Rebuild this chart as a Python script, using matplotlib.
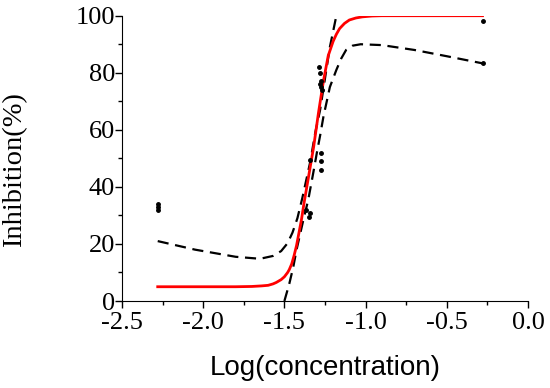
import matplotlib
matplotlib.use("Agg")
import matplotlib.pyplot as plt
from matplotlib.ticker import MultipleLocator

plt.rcParams['axes.unicode_minus'] = False

# measured points
dose_x = [-2.28, -2.28, -2.28,
          -1.37, -1.35, -1.34,
          -1.34, -1.277, -1.277, -1.277,
          -1.285, -1.28, -1.275, -1.28, -1.275, -1.27,
          -0.28, -0.28]
dose_y = [34, 33, 32,
          32, 29.5, 31,
          49.5, 52, 49, 46,
          82, 80, 77, 76, 75, 74,
          98, 83.3]

# fitted curve
fit_x = [-2.28, -1.80, -1.70, -1.64, -1.60, -1.57, -1.55, -1.52, -1.50, -1.48, -1.47,
         -1.455, -1.44, -1.425, -1.41, -1.395, -1.38, -1.365, -1.35,
         -1.335, -1.32, -1.305, -1.29, -1.275, -1.26, -1.245, -1.23,
         -1.215, -1.20, -1.18, -1.16, -1.13, -1.10, -1.06, -1.02, -0.96, -0.90, -0.28]
fit_y = [5.0, 5.0, 5.1, 5.3, 5.5, 6.0, 6.5, 7.5, 8.5, 10, 11,
         13, 16, 19.5, 24, 28.5, 34, 39, 44,
         49, 54, 60, 66, 71.5, 77, 81.5, 86,
         88.5, 91, 93.5, 95.5, 97.3, 98.5, 99.2, 99.6, 99.9, 100, 100]

# confidence band, upper branch
upper_x = [-2.28, -2.05, -1.80, -1.65, -1.57, -1.52, -1.48, -1.45, -1.42, -1.39,
           -1.34, -1.31, -1.28, -1.25, -1.22, -1.18]
upper_y = [21, 18, 15.5, 14.8, 15.8, 17.5, 20.3, 24, 29, 36,
           49, 59, 67, 78, 89, 100]

# confidence band, lower branch
lower_x = [-1.50, -1.47, -1.445, -1.425, -1.405, -1.385, -1.353, -1.322, -1.30, -1.28,
           -1.26, -1.22, -1.18, -1.15, -1.12, -1.08, -1.03, -0.90, -0.70, -0.50, -0.28]
lower_y = [0, 6, 12, 18, 23, 28, 35.5, 45, 52, 58,
           64.5, 75, 81, 85, 88, 89.5, 90, 89.7, 88, 85.8, 83.3]


def main():
    fig = plt.figure(figsize=(5.5, 3.88), dpi=100)
    ax = fig.add_axes([0.2218, 0.2242, 0.96 - 0.2218, 0.9595 - 0.2242])

    ax.plot(upper_x, upper_y, '--', color='k', lw=1.6, dashes=(5, 3), zorder=2)
    ax.plot(lower_x, lower_y, '--', color='k', lw=1.6, dashes=(5, 3), zorder=2)
    ax.plot(fit_x, fit_y, '-', color='#ff0000', lw=2, zorder=3)
    ax.plot(dose_x, dose_y, 'o', color='k', ms=2.5, zorder=4, clip_on=False)

    ax.set_xlim(-2.5, 0.0)
    ax.set_ylim(0, 100)
    ax.spines['top'].set_visible(False)
    ax.spines['right'].set_visible(False)

    ax.xaxis.set_major_locator(MultipleLocator(0.5))
    ax.xaxis.set_minor_locator(MultipleLocator(0.25))
    ax.yaxis.set_major_locator(MultipleLocator(20))
    ax.yaxis.set_minor_locator(MultipleLocator(10))
    ax.tick_params(which='major', direction='out', length=5, width=1)
    ax.tick_params(which='minor', direction='out', length=3, width=1)
    ax.set_xticklabels([f"{v:.1f}" for v in ax.get_xticks()])

    for lab in ax.get_xticklabels() + ax.get_yticklabels():
        lab.set_family('Liberation Serif')
        lab.set_fontsize(19)
    ax.tick_params(axis='x', pad=3)
    ax.tick_params(axis='y', pad=0)

    ax.set_ylabel("Inhibition(%)", family='Liberation Serif', fontsize=20.5)
    ax.set_xlabel("Log(concentration)", family='Liberation Sans', fontsize=20)
    ax.yaxis.set_label_coords(-0.234, 0.46)
    ax.xaxis.set_label_coords(0.5, -0.19)

    fig.savefig("out.png", dpi=100)


main()
